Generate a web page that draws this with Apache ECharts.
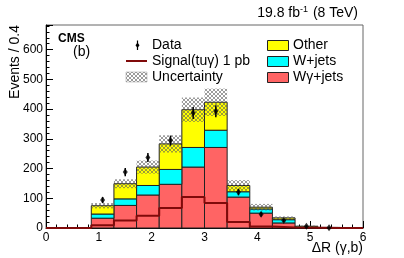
<!DOCTYPE html>
<html>
<head>
<meta charset="utf-8">
<script src="https://cdn.jsdelivr.net/npm/echarts@6/dist/echarts.min.js"></script>
<style>
html,body{margin:0;padding:0;background:#fff;}
#chart{width:404px;height:258px;}
</style>
</head>
<body>
<div id="chart"></div>
<script>
// ---- data (14 bins of width 6/14 over 0..6) ----
const binEdges = [0, 0.4286, 0.8571, 1.2857, 1.7143, 2.1429, 2.5714, 3.0, 3.4286, 3.8571, 4.2857, 4.7143, 5.1429, 5.5714, 6.0];
const wgammaJets = [0, 0, 33, 76, 111, 147, 205, 271, 104, 50, 17, 2, 1, 0];
const wJets      = [0, 0, 14, 22, 32, 50, 66, 58, 18, 14, 11, 1, 0, 0];
const other      = [0, 0, 28, 51, 62, 86, 127, 94, 21, 6, 6, 3, 1, 0];
const uncert     = [0, 0, 9, 15, 22, 29, 41, 46, 18, 11, 5, 2, 1, 0];
const dataVals   = [null, null, 94, 188, 237, 294, 387, 393, 121, 46, 25, 6, 1, null];
const dataErr    = [0, 0, 10, 14, 15, 17, 20, 20, 11, 7, 5, 3, 1, 0];
const signal     = [0, 0, 9, 25, 41, 67, 104, 84, 20, 5, 2, 1, 0, 0];
const xTicks = [0, 1, 2, 3, 4, 5, 6];
const yTicks = [0, 100, 200, 300, 400, 500, 600];

const FONT = 'Liberation Sans, Arial, Helvetica, sans-serif';
const colWg = '#ff6464', colWj = '#00ffff', colOther = '#ffff00', colSig = '#800a0a';

// hatch pattern
const hc = document.createElement('canvas');
hc.width = 4; hc.height = 4;
const hx = hc.getContext('2d');
hx.fillStyle = 'rgba(90,90,90,0.6)';
[[0,0],[1,1],[2,2],[3,3],[3,0],[2,1],[1,2],[0,3]].forEach(p => hx.fillRect(p[0], p[1], 1, 1));
const hatch = { image: hc, repeat: 'repeat' };

function stackData(vals, bases) {
  const out = [];
  vals.forEach((v, i) => {
    if (v > 0) {
      const b = bases ? bases[i] : 0;
      out.push([binEdges[i], binEdges[i + 1], b, b + v]);
    }
  });
  return out;
}
const base2 = wgammaJets.map((v, i) => v + wJets[i]);
const total = base2.map((v, i) => v + other[i]);
const uncData = [];
total.forEach((t, i) => { if (uncert[i] > 0) uncData.push([binEdges[i], binEdges[i + 1], t - uncert[i], t + uncert[i]]); });

function rectRender(fill, stroke) {
  return function (params, api) {
    const p0 = api.coord([api.value(0), api.value(3)]);
    const p1 = api.coord([api.value(1), api.value(2)]);
    return {
      type: 'rect',
      shape: { x: p0[0], y: p0[1], width: p1[0] - p0[0], height: p1[1] - p0[1] },
      style: stroke ? { fill: fill, stroke: stroke, lineWidth: 1 } : { fill: fill }
    };
  };
}

const centers = binEdges.slice(0, -1).map((e, i) => (e + binEdges[i + 1]) / 2);
const dataPts = [], errPts = [];
dataVals.forEach((v, i) => {
  if (v !== null) {
    dataPts.push([centers[i], v]);
    errPts.push([centers[i], v - dataErr[i], v + dataErr[i]]);
  }
});
const sigPts = signal.map((v, i) => [binEdges[i], v]);
sigPts.push([binEdges[binEdges.length - 1], signal[signal.length - 1]]);

const chart = echarts.init(document.getElementById('chart'), null, { renderer: 'canvas' });

const legendY = [45, 61, 77];
const option = {
  animation: false,
  backgroundColor: '#fff',
  grid: { left: 46, right: 41, top: 25, bottom: 30, show: true, borderColor: '#666', borderWidth: 1 },
  xAxis: {
    type: 'value', min: xTicks[0], max: xTicks[xTicks.length - 1], interval: 1,
    axisLine: { show: true, lineStyle: { color: '#000', width: 1 }, onZero: false },
    axisTick: { show: true, inside: true, length: 7, lineStyle: { color: '#000' } },
    minorTick: { show: true, splitNumber: 5, length: 3.5, lineStyle: { color: '#000' } },
    splitLine: { show: false },
    axisLabel: { color: '#000', fontSize: 12, fontFamily: FONT, margin: 4 }
  },
  yAxis: {
    type: 'value', min: 0, max: 683, interval: 100,
    axisLine: { show: true, lineStyle: { color: '#000', width: 1 } },
    axisTick: { show: true, inside: true, length: 7, lineStyle: { color: '#000' } },
    minorTick: { show: true, splitNumber: 5, length: 3.5, lineStyle: { color: '#000' } },
    splitLine: { show: false },
    axisLabel: { color: '#000', fontSize: 12, fontFamily: FONT, margin: 3, showMaxLabel: false,
      formatter: v => (yTicks.indexOf(v) >= 0 ? String(v) : '') }
  },
  series: [
    { type: 'custom', name: 'Wγ+jets', renderItem: rectRender(colWg, '#222'), data: stackData(wgammaJets, null), encode: { x: [0, 1], y: [2, 3] }, z: 2 },
    { type: 'custom', name: 'W+jets', renderItem: rectRender(colWj, '#222'), data: stackData(wJets, wgammaJets), encode: { x: [0, 1], y: [2, 3] }, z: 2 },
    { type: 'custom', name: 'Other', renderItem: rectRender(colOther, '#222'), data: stackData(other, base2), encode: { x: [0, 1], y: [2, 3] }, z: 2 },
    { type: 'custom', name: 'Uncertainty', renderItem: rectRender(hatch, null), data: uncData, encode: { x: [0, 1], y: [2, 3] }, z: 3 },
    { type: 'line', name: 'Signal(tuγ) 1 pb', data: sigPts, step: 'end', symbol: 'none',
      lineStyle: { color: colSig, width: 2 }, z: 4 },
    { type: 'custom', name: 'DataErr', z: 5,
      renderItem: function (params, api) {
        const a = api.coord([api.value(0), api.value(1)]);
        const b = api.coord([api.value(0), api.value(2)]);
        return { type: 'line', shape: { x1: a[0], y1: a[1], x2: b[0], y2: b[1] }, style: { stroke: '#000', lineWidth: 1.5 } };
      },
      data: errPts, encode: { x: 0, y: [1, 2] } },
    { type: 'scatter', name: 'Data', data: dataPts, symbol: 'diamond', symbolSize: [5, 7],
      itemStyle: { color: '#000' }, z: 6 }
  ],
  graphic: [
    { type: 'text', x: 358, y: 13, style: { text: '19.8 fb{s|-1} (8 TeV)', align: 'right', verticalAlign: 'middle', fontSize: 14, fontFamily: FONT, fill: '#000',
      rich: { s: { fontSize: 9, verticalAlign: 'top', padding: [0, 1, 6, 0], fontFamily: FONT } } } },
    { type: 'text', x: 58, y: 38.5, style: { text: 'CMS', fontSize: 12, fontWeight: 'bold', fontFamily: FONT, fill: '#000', align: 'left', verticalAlign: 'middle' }, z: 10 },
    { type: 'text', x: 73, y: 52, style: { text: '(b)', fontSize: 14, fontFamily: FONT, fill: '#000', align: 'left', verticalAlign: 'middle' }, z: 10 },
    { type: 'text', x: 15, y: 25, rotation: Math.PI / 2, style: { text: 'Events / 0.4', fontSize: 14, fontFamily: FONT, fill: '#000', align: 'right', verticalAlign: 'middle' } },
    { type: 'text', x: 363, y: 248, style: { text: 'ΔR (γ,b)', fontSize: 14, fontFamily: FONT, fill: '#000', align: 'right', verticalAlign: 'middle' } },
    { type: 'line', shape: { x1: 137.5, y1: 40.5, x2: 137.5, y2: 50 }, style: { stroke: '#000', lineWidth: 1.2 }, z: 10 },
    { type: 'polygon', shape: { points: [[137.5, 42.5], [139.5, 45.2], [137.5, 48], [135.5, 45.2]] }, style: { fill: '#000' }, z: 10 },
    { type: 'text', x: 152, y: legendY[0], style: { text: 'Data', fontSize: 14, fontFamily: FONT, fill: '#000', verticalAlign: 'middle' }, z: 10 },
    { type: 'line', shape: { x1: 126, y1: legendY[1], x2: 147, y2: legendY[1] }, style: { stroke: colSig, lineWidth: 2 }, z: 10 },
    { type: 'text', x: 152, y: legendY[1], style: { text: 'Signal(tuγ) 1 pb', fontSize: 14, fontFamily: FONT, fill: '#000', verticalAlign: 'middle' }, z: 10 },
    { type: 'rect', shape: { x: 126, y: 72, width: 21, height: 10 }, style: { fill: hatch, stroke: '#999', lineWidth: 0.5 }, z: 10 },
    { type: 'text', x: 152, y: legendY[2], style: { text: 'Uncertainty', fontSize: 14, fontFamily: FONT, fill: '#000', verticalAlign: 'middle' }, z: 10 },
    { type: 'rect', shape: { x: 267.5, y: 40.5, width: 21, height: 10 }, style: { fill: colOther, stroke: '#222', lineWidth: 1 }, z: 10 },
    { type: 'text', x: 293, y: legendY[0], style: { text: 'Other', fontSize: 14, fontFamily: FONT, fill: '#000', verticalAlign: 'middle' }, z: 10 },
    { type: 'rect', shape: { x: 267.5, y: 56.5, width: 21, height: 10 }, style: { fill: colWj, stroke: '#222', lineWidth: 1 }, z: 10 },
    { type: 'text', x: 293, y: legendY[1], style: { text: 'W+jets', fontSize: 14, fontFamily: FONT, fill: '#000', verticalAlign: 'middle' }, z: 10 },
    { type: 'rect', shape: { x: 267.5, y: 72.5, width: 21, height: 10 }, style: { fill: colWg, stroke: '#222', lineWidth: 1 }, z: 10 },
    { type: 'text', x: 293, y: legendY[2], style: { text: 'Wγ+jets', fontSize: 14, fontFamily: FONT, fill: '#000', verticalAlign: 'middle' }, z: 10 }
  ]
};
chart.setOption(option);
</script>
</body>
</html>
